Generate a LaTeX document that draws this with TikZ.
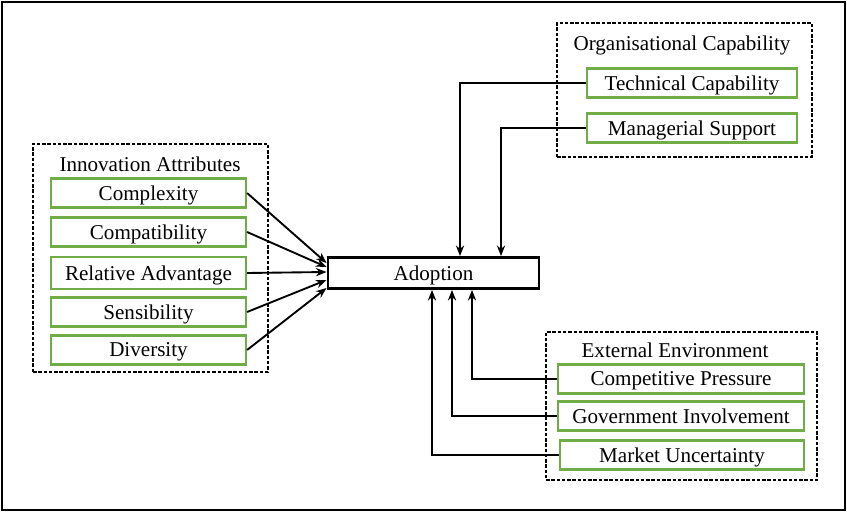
\documentclass[tikz,border=0pt]{standalone}
\usepackage{fontspec}
\setmainfont{Liberation Serif}
\usetikzlibrary{calc,arrows.meta}
\definecolor{boxgreen}{RGB}{112,173,71}
\tikzset{
  factor/.style={draw=boxgreen, line width=1.8pt, minimum height=0.87cm, inner sep=0pt, text depth=0pt, font=\fontsize{18}{20}\selectfont},
  group/.style={draw, dashed, dash pattern=on 3pt off 1.5pt, line width=1.1pt, inner sep=0pt},
  title/.style={font=\fontsize{18}{20}\selectfont},
  link/.style={line width=1.6pt, -{Stealth[length=9pt,width=7pt]}}
}
\begin{document}
\begin{tikzpicture}[x=0.03cm, y=-0.03cm]
  \useasboundingbox (0,0) rectangle (847,512);
  \node[draw, line width=2.4pt, minimum width=25.29cm, minimum height=15.24cm, inner sep=0pt] (frame) at (423.5,256) {};
  % groups
  \node[group, minimum width=7.05cm, minimum height=6.84cm] (innov) at (150.5,258) {};
  \node[title] (innovtitle) at (150,164) {Innovation Attributes};
  \node[group, minimum width=7.65cm, minimum height=4.02cm] (orgcap) at (684.5,90) {};
  \node[title] (orgtitle) at (682,45) {Organisational Capability};
  \node[group, minimum width=8.13cm, minimum height=4.44cm] (extenv) at (681.5,406) {};
  \node[title] (exttitle) at (675,350) {External Environment};
  % factors
  \node[factor, minimum width=5.85cm] (complex) at (148.5,193) {Complexity};
  \node[factor, minimum width=5.85cm] (compat) at (148.5,232) {Compatibility};
  \node[factor, minimum width=5.85cm, minimum height=0.96cm] (reladv) at (148.5,273) {Relative Advantage};
  \node[factor, minimum width=5.85cm] (sensib) at (148.5,312) {Sensibility};
  \node[factor, minimum width=5.85cm] (divers) at (148.5,350) {Diversity};
  \node[factor, minimum width=6.3cm] (techcap) at (692,83) {Technical Capability};
  \node[factor, minimum width=6.3cm] (mansup) at (692,128) {Managerial Support};
  \node[factor, minimum width=7.38cm] (compress) at (681,379) {Competitive Pressure};
  \node[factor, minimum width=7.38cm] (govinv) at (681,416) {Government Involvement};
  \node[factor, minimum width=7.32cm] (markunc) at (682,455) {Market Uncertainty};
  % outcome
  \node[draw, line width=2.5pt, minimum width=6.33cm, minimum height=0.93cm, inner sep=0pt, text depth=0pt, title] (adopt) at (433.5,273) {Adoption};
  % links
  \draw[link] (complex.east) -- ($(adopt.west)+(0,-10)$);
  \draw[link] (compat.east) -- ($(adopt.west)+(0,-6)$);
  \draw[link] (reladv.east) -- ($(adopt.west)+(0,-1)$);
  \draw[link] (sensib.east) -- ($(adopt.west)+(0,7)$);
  \draw[link] (divers.east) -- ($(adopt.west)+(0,15)$);
  \draw[link] (techcap.west) -| ($(adopt.north)+(26.5,0)$);
  \draw[link] (mansup.west) -| ($(adopt.north)+(67.5,0)$);
  \draw[link] (compress.west) -| ($(adopt.south)+(38.5,0)$);
  \draw[link] (govinv.west) -| ($(adopt.south)+(18.5,0)$);
  \draw[link] (markunc.west) -| ($(adopt.south)+(-1.5,0)$);
\end{tikzpicture}
\end{document}
